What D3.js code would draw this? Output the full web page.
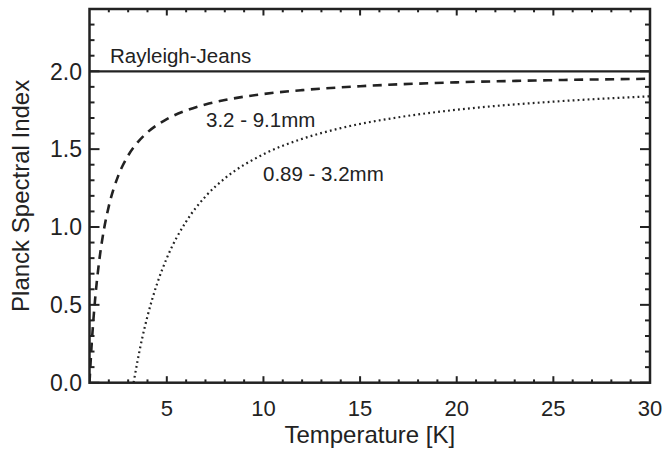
<!DOCTYPE html>
<html>
<head>
<meta charset="utf-8">
<script src="https://cdn.jsdelivr.net/npm/d3@7/dist/d3.min.js"></script>
<style>
  html, body { margin: 0; padding: 0; background: #fff; }
  svg text { font-family: "Liberation Sans", Arial, Helvetica, sans-serif; fill: #222; }
</style>
</head>
<body>
<svg id="chart" width="665" height="451"></svg>
<script>
// ---- data ----
const xTicks = [5, 10, 15, 20, 25, 30];
const yTicks = [0.0, 0.5, 1.0, 1.5, 2.0];
const rjValue = 2.0;

const tempA = [1.0, 1.1, 1.2, 1.3, 1.4, 1.5, 1.75, 2.0, 2.5, 3.0, 3.5, 4.0, 5.0, 6.0, 7.0, 8.0, 10.0, 12.0, 15.0, 20.0, 25.0, 30.0];
const indexA = [0.00, 0.222, 0.401, 0.549, 0.674, 0.780, 0.986, 1.134, 1.333, 1.459, 1.545, 1.608, 1.693, 1.748, 1.787, 1.815, 1.854, 1.879, 1.904, 1.929, 1.943, 1.952];

const tempB = [3.28, 3.5, 3.75, 4.0, 4.5, 5.0, 6.0, 7.0, 8.0, 10.0, 12.0, 14.0, 17.0, 20.0, 25.0, 30.0];
const indexB = [0.00, 0.149, 0.299, 0.427, 0.637, 0.800, 1.035, 1.196, 1.312, 1.467, 1.566, 1.635, 1.705, 1.753, 1.805, 1.839];

const labelRJ = "Rayleigh-Jeans";
const labelA = "3.2 - 9.1mm";
const labelB = "0.89 - 3.2mm";

// ---- layout ----
const svg = d3.select("#chart");
const L = 89.5, R = 650, T = 9, B = 382.7;
const x = d3.scaleLinear().domain([1, 30]).range([L, R]);
const y = d3.scaleLinear().domain([0, 2.4]).range([B, T]);
const ink = "#222";

svg.append("defs").append("clipPath").attr("id", "clip")
  .append("rect").attr("x", L).attr("y", T).attr("width", R - L).attr("height", B - T);

const plot = svg.append("g").attr("clip-path", "url(#clip)");

// RJ line
plot.append("line")
  .attr("x1", x(1)).attr("x2", x(30)).attr("y1", y(rjValue)).attr("y2", y(rjValue))
  .attr("stroke", ink).attr("stroke-width", 2.2);

const line = d3.line().x(d => x(d[0])).y(d => y(d[1])).curve(d3.curveMonotoneX);

plot.append("path")
  .datum(tempA.map((t, i) => [t, indexA[i]]))
  .attr("d", line).attr("fill", "none")
  .attr("stroke", ink).attr("stroke-width", 2.6)
  .attr("stroke-dasharray", "9,6.5");

plot.append("path")
  .datum(tempB.map((t, i) => [t, indexB[i]]))
  .attr("d", line).attr("fill", "none")
  .attr("stroke", ink).attr("stroke-width", 2.2)
  .attr("stroke-dasharray", "1.8,3.2");

// axes with inward ticks (IDL style)
const xMinor = d3.range(2, 30, 1).filter(v => !xTicks.includes(v));
const yMinor = d3.range(0.1, 2.4, 0.1).map(v => +v.toFixed(1)).filter(v => !yTicks.includes(v));

const axes = svg.append("g");
function bottomTop(vals, len) {
  vals.forEach(v => {
    axes.append("line").attr("x1", x(v)).attr("x2", x(v)).attr("y1", B).attr("y2", B - len)
      .attr("stroke", ink).attr("stroke-width", 2);
    axes.append("line").attr("x1", x(v)).attr("x2", x(v)).attr("y1", T).attr("y2", T + len)
      .attr("stroke", ink).attr("stroke-width", 2);
  });
}
function leftRight(vals, len) {
  vals.forEach(v => {
    axes.append("line").attr("y1", y(v)).attr("y2", y(v)).attr("x1", L).attr("x2", L + len)
      .attr("stroke", ink).attr("stroke-width", 2);
    axes.append("line").attr("y1", y(v)).attr("y2", y(v)).attr("x1", R).attr("x2", R - len)
      .attr("stroke", ink).attr("stroke-width", 2);
  });
}
bottomTop(xTicks, 6.5);
bottomTop(xMinor, 3.3);
leftRight(yTicks, 10);
leftRight(yMinor, 5);

axes.append("rect").attr("x", L).attr("y", T).attr("width", R - L).attr("height", B - T)
  .attr("fill", "none").attr("stroke", ink).attr("stroke-width", 2.5);

// tick labels
svg.append("g").selectAll("text").data(xTicks).join("text")
  .attr("x", d => x(d)).attr("y", 415.5).attr("text-anchor", "middle")
  .attr("font-size", 22).text(d => d3.format("d")(d));
svg.append("g").selectAll("text").data(yTicks).join("text")
  .attr("x", 82).attr("y", d => y(d) + 8.3).attr("text-anchor", "end")
  .attr("font-size", 23).text(d => d3.format(".1f")(d));

// axis titles
svg.append("text").attr("x", (L + R) / 2).attr("y", 442.5).attr("text-anchor", "middle")
  .attr("font-size", 24).text("Temperature [K]");
svg.append("text").attr("transform", `translate(29,${(T + B) / 2}) rotate(-90)`)
  .attr("text-anchor", "middle").attr("font-size", 24).text("Planck Spectral Index");

// annotations
svg.append("text").attr("x", 110).attr("y", 63.3).attr("font-size", 20.5).text(labelRJ);
svg.append("text").attr("x", 206).attr("y", 126.7).attr("font-size", 20.5).text(labelA);
svg.append("text").attr("x", 263).attr("y", 180.7).attr("font-size", 20.5).text(labelB);
</script>
</body>
</html>
